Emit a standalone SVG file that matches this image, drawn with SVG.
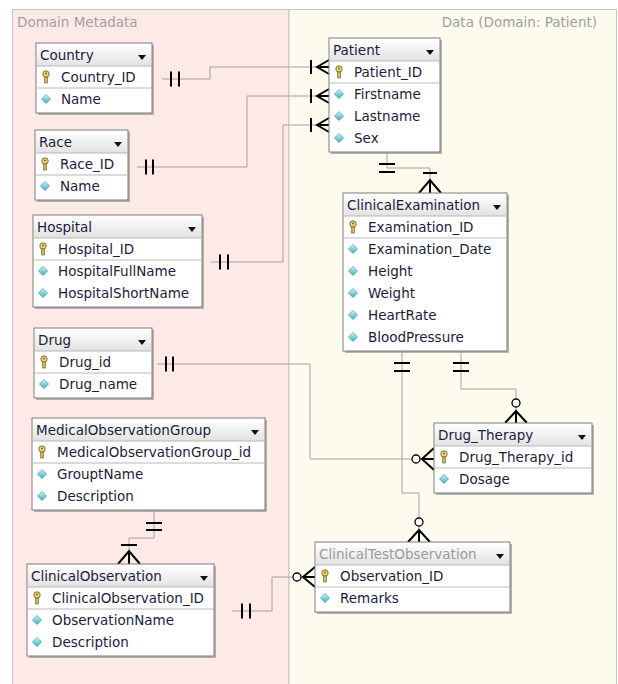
<svg xmlns="http://www.w3.org/2000/svg" xmlns:xlink="http://www.w3.org/1999/xlink" width="618" height="684" viewBox="0 0 618 684">
  <style>
    .panel { stroke: #c4c4c4; stroke-width: 1; }
    .ptitle { font-family: "DejaVu Sans", Verdana, sans-serif; font-size: 13.5px; fill: #a0a0a0; }
    .shadow { fill: #9c9c9c; opacity: 0.75; }
    .box { fill: #ffffff; stroke: #7c7c7c; stroke-width: 1; }
    .hdr { fill: url(#hdrGrad); }
    .sep { stroke: #b8b8b8; stroke-width: 1; }
    .th { font-family: "DejaVu Sans", Verdana, sans-serif; font-size: 13.5px; fill: #1c1c3c; }
    .th.dim { fill: #9a9a9a; }
    .td { font-family: "DejaVu Sans", Verdana, sans-serif; font-size: 13.5px; fill: #1c1c3c; }
    .dd { fill: #111111; }
    .wire { fill: none; stroke: #a2a2a2; stroke-width: 1; }
    .sym { fill: none; stroke: #000000; stroke-width: 2; }
    .opt { fill: #ffffff; stroke: #000000; stroke-width: 1.3; }
  </style>
  <defs>
    <linearGradient id="hdrGrad" x1="0" y1="0" x2="0" y2="1">
      <stop offset="0" stop-color="#ffffff"/>
      <stop offset="1" stop-color="#e2e2e2"/>
    </linearGradient>
    <linearGradient id="diaGrad" x1="0" y1="0" x2="0" y2="1">
      <stop offset="0" stop-color="#d4f7f8"/>
      <stop offset="1" stop-color="#38aebe"/>
    </linearGradient>
    <g id="key">
      <circle cx="0" cy="-3" r="3.2" fill="#f2d870" stroke="#6e6230" stroke-width="0.9"/>
      <rect x="-1.3" y="0" width="2.6" height="6" fill="#d8bb52" stroke="#6e6230" stroke-width="0.7"/>
      <circle cx="0" cy="-3.6" r="1" fill="#6e6230"/>
    </g>
    <path id="attr" d="M0,-4.5 L4.5,0 L0,4.5 L-4.5,0Z" fill="url(#diaGrad)" stroke="#4c9aa8" stroke-width="0.8"/>
  </defs>

  <!-- background panels -->
  <rect x="0" y="0" width="618" height="684" fill="#ffffff"/>
  <rect class="panel" x="12.5" y="9.5" width="276.5" height="680" fill="#fdeae7"/>
  <rect class="panel" x="289" y="9.5" width="327.5" height="680" fill="#fdfaee"/>
  <text class="ptitle" x="17" y="27">Domain Metadata</text>
  <text class="ptitle" x="597" y="27" text-anchor="end">Data (Domain: Patient)</text>

  <!-- relationships -->
  <g id="connectors">
    <!-- Country -> Patient -->
    <path class="wire" d="M162,79 H210 V67 H329"/>
    <path class="sym" d="M171,71.5 V86.5 M179,71.5 V86.5"/>
    <path class="sym" d="M311,60 V74 M329,60 L317,67 L329,74 M317,67 H329"/>
    <!-- Race -> Patient -->
    <path class="wire" d="M137,167 H247 V96 H329"/>
    <path class="sym" d="M146,159.5 V174.5 M153,159.5 V174.5"/>
    <path class="sym" d="M311,89 V103 M329,89 L317,96 L329,103 M317,96 H329"/>
    <!-- Hospital -> Patient -->
    <path class="wire" d="M211,262 H283 V125 H329"/>
    <path class="sym" d="M220,254.5 V269.5 M228,254.5 V269.5"/>
    <path class="sym" d="M311,118 V132 M329,118 L317,125 L329,132 M317,125 H329"/>
    <!-- Patient -> ClinicalExamination -->
    <path class="wire" d="M387,152 V168 H430 V193"/>
    <path class="sym" d="M379,164 H395 M379,172 H395"/>
    <path class="sym" d="M423,173 H437 M419,193 L430,180 L441,193 M430,180 V193"/>
    <!-- ClinicalExamination -> Drug_Therapy -->
    <path class="wire" d="M461,351 V389 H516 V423"/>
    <path class="sym" d="M453,363 H469 M453,371 H469"/>
    <path class="sym" d="M505,423 L516,411 L527,423 M516,411 V423"/>
    <circle class="opt" cx="516" cy="403" r="4"/>
    <!-- ClinicalExamination -> ClinicalTestObservation -->
    <path class="wire" d="M402,351 V493 H419 V542"/>
    <path class="sym" d="M394,363 H410 M394,371 H410"/>
    <path class="sym" d="M408,542 L419,530 L430,542 M419,530 V542"/>
    <circle class="opt" cx="419" cy="522" r="4"/>
    <!-- Drug -> Drug_Therapy -->
    <path class="wire" d="M157,364 H310 V459 H434"/>
    <path class="sym" d="M166,356.5 V371.5 M173,356.5 V371.5"/>
    <path class="sym" d="M434,448 L422,459 L434,470 M422,459 H434"/>
    <circle class="opt" cx="416" cy="459" r="4"/>
    <!-- MedicalObservationGroup -> ClinicalObservation -->
    <path class="wire" d="M154,510 V538 H129 V564"/>
    <path class="sym" d="M146,523 H162 M146,530 H162"/>
    <path class="sym" d="M121,545 H137 M118,564 L129,551 L140,564 M129,551 V564"/>
    <!-- ClinicalObservation -> ClinicalTestObservation -->
    <path class="wire" d="M232,611 H272 V577 H315"/>
    <path class="sym" d="M242,603.5 V618.5 M250,603.5 V618.5"/>
    <path class="sym" d="M315,567 L303,577 L315,587 M303,577 H315"/>
    <circle class="opt" cx="297" cy="577" r="4"/>
  </g>

  <!-- tables -->
  <g id="t-country">
    <rect class="shadow" x="38" y="45" width="116" height="70"/>
    <rect class="box" x="36" y="43" width="116" height="70"/>
    <rect class="hdr" x="37" y="44" width="114" height="22"/>
    <line class="sep" x1="36" y1="66" x2="152" y2="66"/>
    <line class="sep" x1="36" y1="88" x2="152" y2="88"/>
    <text class="th" x="40" y="60">Country</text>
    <path class="dd" d="M138,55 h8 l-4,5z"/>
    <use xlink:href="#key" x="46" y="77"/>
    <text class="td" x="61" y="82">Country_ID</text>
    <use xlink:href="#attr" x="46" y="99"/>
    <text class="td" x="61" y="104">Name</text>
  </g>

  <g id="t-race">
    <rect class="shadow" x="37" y="132" width="93" height="70"/>
    <rect class="box" x="35" y="130" width="93" height="70"/>
    <rect class="hdr" x="36" y="131" width="91" height="22"/>
    <line class="sep" x1="35" y1="153" x2="128" y2="153"/>
    <line class="sep" x1="35" y1="175" x2="128" y2="175"/>
    <text class="th" x="39" y="147">Race</text>
    <path class="dd" d="M114,142 h8 l-4,5z"/>
    <use xlink:href="#key" x="45" y="164"/>
    <text class="td" x="60" y="169">Race_ID</text>
    <use xlink:href="#attr" x="45" y="186"/>
    <text class="td" x="60" y="191">Name</text>
  </g>

  <g id="t-hospital">
    <rect class="shadow" x="35" y="217" width="169" height="92"/>
    <rect class="box" x="33" y="215" width="169" height="92"/>
    <rect class="hdr" x="34" y="216" width="167" height="22"/>
    <line class="sep" x1="33" y1="238" x2="202" y2="238"/>
    <line class="sep" x1="33" y1="260" x2="202" y2="260"/>
    <text class="th" x="37" y="232">Hospital</text>
    <path class="dd" d="M188,227 h8 l-4,5z"/>
    <use xlink:href="#key" x="43" y="249"/>
    <text class="td" x="58" y="254">Hospital_ID</text>
    <use xlink:href="#attr" x="43" y="271"/>
    <text class="td" x="58" y="276">HospitalFullName</text>
    <use xlink:href="#attr" x="43" y="293"/>
    <text class="td" x="58" y="298">HospitalShortName</text>
  </g>

  <g id="t-drug">
    <rect class="shadow" x="36" y="330" width="118" height="70"/>
    <rect class="box" x="34" y="328" width="118" height="70"/>
    <rect class="hdr" x="35" y="329" width="116" height="22"/>
    <line class="sep" x1="34" y1="351" x2="152" y2="351"/>
    <line class="sep" x1="34" y1="373" x2="152" y2="373"/>
    <text class="th" x="38" y="345">Drug</text>
    <path class="dd" d="M138,340 h8 l-4,5z"/>
    <use xlink:href="#key" x="44" y="362"/>
    <text class="td" x="59" y="367">Drug_id</text>
    <use xlink:href="#attr" x="44" y="384"/>
    <text class="td" x="59" y="389">Drug_name</text>
  </g>

  <g id="t-medicalobservationgroup">
    <rect class="shadow" x="34" y="420" width="233" height="92"/>
    <rect class="box" x="32" y="418" width="233" height="92"/>
    <rect class="hdr" x="33" y="419" width="231" height="22"/>
    <line class="sep" x1="32" y1="441" x2="265" y2="441"/>
    <line class="sep" x1="32" y1="463" x2="265" y2="463"/>
    <text class="th" x="36" y="435">MedicalObservationGroup</text>
    <path class="dd" d="M251,430 h8 l-4,5z"/>
    <use xlink:href="#key" x="42" y="452"/>
    <text class="td" x="57" y="457">MedicalObservationGroup_id</text>
    <use xlink:href="#attr" x="42" y="474"/>
    <text class="td" x="57" y="479">GrouptName</text>
    <use xlink:href="#attr" x="42" y="496"/>
    <text class="td" x="57" y="501">Description</text>
  </g>

  <g id="t-clinicalobservation">
    <rect class="shadow" x="29" y="566" width="187" height="92"/>
    <rect class="box" x="27" y="564" width="187" height="92"/>
    <rect class="hdr" x="28" y="565" width="185" height="22"/>
    <line class="sep" x1="27" y1="587" x2="214" y2="587"/>
    <line class="sep" x1="27" y1="609" x2="214" y2="609"/>
    <text class="th" x="31" y="581">ClinicalObservation</text>
    <path class="dd" d="M200,576 h8 l-4,5z"/>
    <use xlink:href="#key" x="37" y="598"/>
    <text class="td" x="52" y="603">ClinicalObservation_ID</text>
    <use xlink:href="#attr" x="37" y="620"/>
    <text class="td" x="52" y="625">ObservationName</text>
    <use xlink:href="#attr" x="37" y="642"/>
    <text class="td" x="52" y="647">Description</text>
  </g>

  <g id="t-patient">
    <rect class="shadow" x="331" y="40" width="111" height="114"/>
    <rect class="box" x="329" y="38" width="111" height="114"/>
    <rect class="hdr" x="330" y="39" width="109" height="22"/>
    <line class="sep" x1="329" y1="61" x2="440" y2="61"/>
    <line class="sep" x1="329" y1="83" x2="440" y2="83"/>
    <text class="th" x="333" y="55">Patient</text>
    <path class="dd" d="M426,50 h8 l-4,5z"/>
    <use xlink:href="#key" x="339" y="72"/>
    <text class="td" x="354" y="77">Patient_ID</text>
    <use xlink:href="#attr" x="339" y="94"/>
    <text class="td" x="354" y="99">Firstname</text>
    <use xlink:href="#attr" x="339" y="116"/>
    <text class="td" x="354" y="121">Lastname</text>
    <use xlink:href="#attr" x="339" y="138"/>
    <text class="td" x="354" y="143">Sex</text>
  </g>

  <g id="t-clinicalexamination">
    <rect class="shadow" x="345" y="195" width="164" height="158"/>
    <rect class="box" x="343" y="193" width="164" height="158"/>
    <rect class="hdr" x="344" y="194" width="162" height="22"/>
    <line class="sep" x1="343" y1="216" x2="507" y2="216"/>
    <line class="sep" x1="343" y1="238" x2="507" y2="238"/>
    <text class="th" x="347" y="210">ClinicalExamination</text>
    <path class="dd" d="M493,205 h8 l-4,5z"/>
    <use xlink:href="#key" x="353" y="227"/>
    <text class="td" x="368" y="232">Examination_ID</text>
    <use xlink:href="#attr" x="353" y="249"/>
    <text class="td" x="368" y="254">Examination_Date</text>
    <use xlink:href="#attr" x="353" y="271"/>
    <text class="td" x="368" y="276">Height</text>
    <use xlink:href="#attr" x="353" y="293"/>
    <text class="td" x="368" y="298">Weight</text>
    <use xlink:href="#attr" x="353" y="315"/>
    <text class="td" x="368" y="320">HeartRate</text>
    <use xlink:href="#attr" x="353" y="337"/>
    <text class="td" x="368" y="342">BloodPressure</text>
  </g>

  <g id="t-drugtherapy">
    <rect class="shadow" x="436" y="425" width="158" height="70"/>
    <rect class="box" x="434" y="423" width="158" height="70"/>
    <rect class="hdr" x="435" y="424" width="156" height="22"/>
    <line class="sep" x1="434" y1="446" x2="592" y2="446"/>
    <line class="sep" x1="434" y1="468" x2="592" y2="468"/>
    <text class="th" x="438" y="440">Drug_Therapy</text>
    <path class="dd" d="M578,435 h8 l-4,5z"/>
    <use xlink:href="#key" x="444" y="457"/>
    <text class="td" x="459" y="462">Drug_Therapy_id</text>
    <use xlink:href="#attr" x="444" y="479"/>
    <text class="td" x="459" y="484">Dosage</text>
  </g>

  <g id="t-clinicaltestobservation">
    <rect class="shadow" x="317" y="544" width="195" height="70"/>
    <rect class="box" x="315" y="542" width="195" height="70"/>
    <rect class="hdr" x="316" y="543" width="193" height="22"/>
    <line class="sep" x1="315" y1="565" x2="510" y2="565"/>
    <line class="sep" x1="315" y1="587" x2="510" y2="587"/>
    <text class="th dim" x="319" y="559">ClinicalTestObservation</text>
    <path class="dd" d="M496,554 h8 l-4,5z"/>
    <use xlink:href="#key" x="325" y="576"/>
    <text class="td" x="340" y="581">Observation_ID</text>
    <use xlink:href="#attr" x="325" y="598"/>
    <text class="td" x="340" y="603">Remarks</text>
  </g>
</svg>
